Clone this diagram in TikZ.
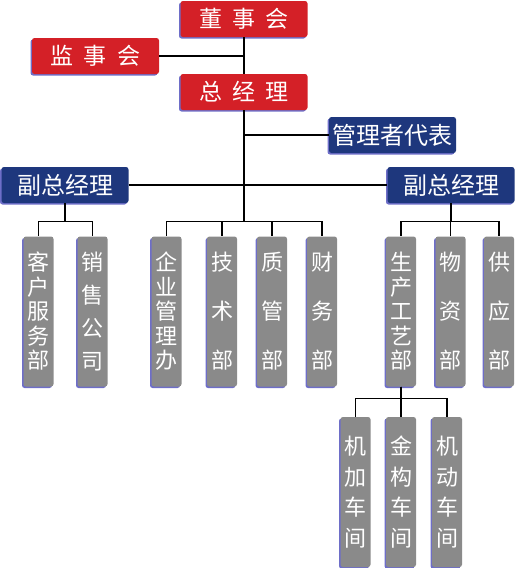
\documentclass[tikz,border=0pt]{standalone}
\usepackage{fontspec}
\newfontfamily\cjk{Noto Sans CJK SC}
\usetikzlibrary{shadows}
\definecolor{boardred}{RGB}{212,32,39}
\definecolor{vpblue}{RGB}{30,55,125}
\definecolor{deptgray}{RGB}{138,138,138}
\definecolor{edgeblue}{RGB}{110,110,200}

\begin{document}
\begin{tikzpicture}[x=1pt, y=-1pt,
  box/.style={rounded corners=2.5pt, text=white, inner sep=0pt,
    drop shadow={shadow xshift=-1.5pt, shadow yshift=-1.5pt, fill=edgeblue, opacity=1}},
  redbox/.style={box, fill=boardred, minimum width=127pt, minimum height=36pt, font=\cjk\fontsize{23}{25}\selectfont},
  bluebox/.style={box, fill=vpblue, minimum width=127pt, minimum height=36pt, font=\cjk\fontsize{24}{26}\selectfont},
  deptbox/.style={box, fill=deptgray, minimum width=30pt, minimum height=150pt, align=center, font=\cjk\fontsize{22}{#1}\selectfont},
  link/.style={black, line width=1.3pt}]
\useasboundingbox (0,0) rectangle (515,568);
% top of the chart
\node[redbox] (dsh) at (244, 19) {董\hspace{0.45em}事\hspace{0.45em}会};
\node[redbox] (jsh) at (95.5, 56) {监\hspace{0.45em}事\hspace{0.45em}会};
\node[redbox] (zjl) at (244, 92) {总\hspace{0.45em}经\hspace{0.45em}理};
\node[bluebox] (glz) at (392.5, 135) {管理者代表};
\node[bluebox] (vpL) at (65, 185) {副总经理};
\node[bluebox] (vpR) at (451, 185) {副总经理};
% departments
\node[deptbox=24.5] (kehu) at (38.5, 311.5) {客\\户\\服\\务\\部};
\node[deptbox=32.7] (xiaoshou) at (92.5, 311.5) {销\\售\\公\\司};
\node[deptbox=24.5] (qiye) at (166.5, 311.5) {企\\业\\管\\理\\办};
\node[deptbox=49] (jishu) at (222, 311.5) {技\\术\\部};
\node[deptbox=49] (zhiguan) at (272, 311.5) {质\\管\\部};
\node[deptbox=49] (caiwu) at (322, 311.5) {财\\务\\部};
\node[deptbox=24.5] (shengchan) at (401, 311.5) {生\\产\\工\\艺\\部};
\node[deptbox=49] (wuzi) at (450.5, 311.5) {物\\资\\部};
\node[deptbox=49] (gongying) at (499, 311.5) {供\\应\\部};
% workshops
\node[deptbox=30.7] (jijia) at (355.5, 492) {机\\加\\车\\间};
\node[deptbox=30.7] (jingou) at (401, 492) {金\\构\\车\\间};
\node[deptbox=30.7] (jidong) at (447, 492) {机\\动\\车\\间};
% connectors
\draw[link] (dsh.south) -- (zjl.north);
\draw[link] (jsh.east) -- (jsh.east -| dsh.south);
\draw[link] (glz.west) -- (glz.west -| zjl.south);
\draw[link] (vpL.east) -- (vpR.west);
\foreach \d in {qiye, jishu, zhiguan, caiwu}
  \draw[link] (zjl.south) -- ++(0,111) -| (\d.north);
\foreach \d in {kehu, xiaoshou}
  \draw[link] (vpL.south) -- ++(0,18) -| (\d.north);
\foreach \d in {shengchan, wuzi, gongying}
  \draw[link] (vpR.south) -- ++(0,18) -| (\d.north);
\foreach \d in {jijia, jingou, jidong}
  \draw[link] (shengchan.south) -- ++(0,12) -| (\d.north);
\end{tikzpicture}
\end{document}
